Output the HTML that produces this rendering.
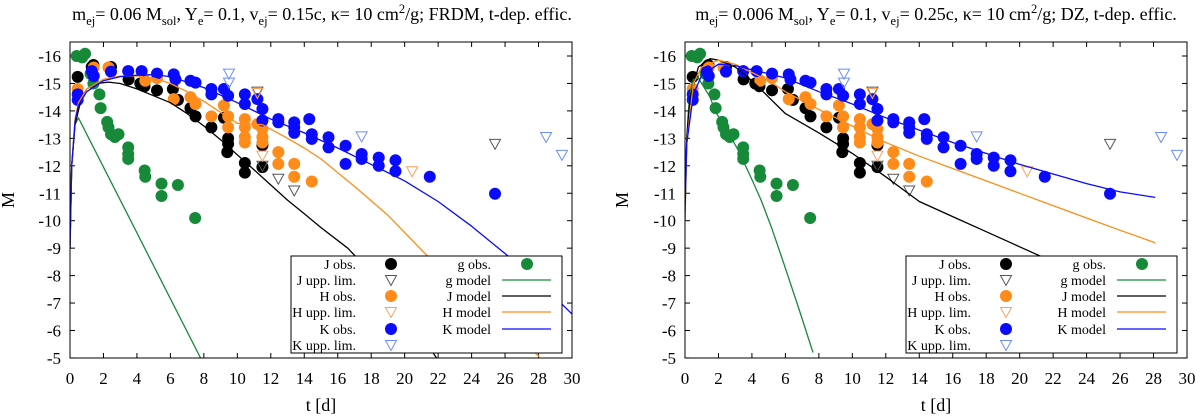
<!DOCTYPE html>
<html><head><meta charset="utf-8"><style>
html,body{margin:0;padding:0;background:#fff;}
svg{display:block;font-family:"Liberation Serif",serif;}
</style></head><body>
<svg id="chart" width="1200" height="417" viewBox="0 0 1200 417" xmlns="http://www.w3.org/2000/svg">
<text x="322" y="20" text-anchor="middle" font-size="18">m<tspan font-size="12.5" dy="5">ej</tspan><tspan dy="-5">= 0.06 M</tspan><tspan font-size="12.5" dy="5">sol</tspan><tspan dy="-5">, Y</tspan><tspan font-size="12.5" dy="5">e</tspan><tspan dy="-5">= 0.1, v</tspan><tspan font-size="12.5" dy="5">ej</tspan><tspan dy="-5">= 0.15c, κ= 10 cm</tspan><tspan font-size="12.5" dy="-7">2</tspan><tspan dy="7">/g; FRDM, t-dep. effic.</tspan></text>
<text x="936" y="20" text-anchor="middle" font-size="18">m<tspan font-size="12.5" dy="5">ej</tspan><tspan dy="-5">= 0.006 M</tspan><tspan font-size="12.5" dy="5">sol</tspan><tspan dy="-5">, Y</tspan><tspan font-size="12.5" dy="5">e</tspan><tspan dy="-5">= 0.1, v</tspan><tspan font-size="12.5" dy="5">ej</tspan><tspan dy="-5">= 0.25c, κ= 10 cm</tspan><tspan font-size="12.5" dy="-7">2</tspan><tspan dy="7">/g; DZ, t-dep. effic.</tspan></text>
</svg>
<script>
// ---- observed data (shared) ----
const jObsT=[0.46,1.3,1.4,2.45,3.5,4.2,4.45,5.2,6.15,6.45,7.2,7.5,8.45,9.2,9.45,9.45,9.4,10.45,10.45,11.5,11.5];
const jObsM=[-15.24,-15.6,-15.67,-15.6,-15.15,-15.0,-14.9,-14.75,-14.8,-14.4,-14.1,-13.8,-13.4,-13.75,-13.0,-12.8,-12.5,-12.1,-11.75,-11.95,-12.75];
const gObsT=[0.4,0.9,0.73,1.23,1.4,1.76,1.83,2.22,2.3,2.45,2.68,2.9,3.48,3.48,3.48,4.46,4.5,5.47,5.47,6.45,7.48];
const gObsM=[-16.0,-16.08,-15.95,-15.35,-15.0,-14.6,-14.1,-13.6,-13.4,-13.15,-13.05,-13.15,-12.67,-12.43,-12.25,-11.83,-11.6,-11.35,-10.9,-11.3,-10.1];
const hObsT=[0.46,1.42,2.3,3.48,4.5,5.2,6.2,7.2,7.5,8.45,9.2,9.45,9.45,10.45,10.45,10.45,10.45,11.2,11.5,11.5,11.5,12.45,12.45,13.4,13.4,14.45];
const hObsM=[-14.8,-15.58,-15.58,-15.45,-15.1,-15.2,-14.43,-14.5,-14.25,-13.8,-14.2,-13.8,-13.4,-13.7,-13.4,-13.05,-12.85,-13.52,-13.35,-13.05,-12.85,-12.5,-12.07,-12.07,-11.6,-11.43];
const kObsT=[0.46,0.46,1.3,1.42,2.45,3.48,4.28,5.2,6.2,6.3,7.2,7.5,8.45,8.45,9.2,9.45,10.45,10.45,11.2,11.5,11.5,12.45,12.45,13.4,13.4,13.4,14.3,14.45,14.45,15.45,15.45,16.47,16.47,17.43,17.43,18.45,18.45,19.45,19.45,21.5,25.4];
const kObsM=[-14.6,-14.4,-15.45,-15.27,-15.43,-15.45,-15.45,-15.36,-15.33,-15.15,-15.1,-15.03,-14.8,-14.6,-14.8,-14.55,-14.6,-14.25,-14.43,-14.07,-13.65,-13.7,-13.58,-13.58,-13.4,-13.2,-13.7,-13.15,-12.98,-13.04,-12.67,-12.73,-12.07,-12.43,-12.25,-12.3,-12.0,-12.2,-11.8,-11.6,-10.98];
const jLimT=[11.2,11.5,12.45,13.4,25.4];
const jLimM=[-14.7,-12.0,-11.53,-11.1,-12.8];
const hLimT=[11.2,11.5,20.45];
const hLimM=[-14.65,-12.37,-11.8];
const kLimT=[9.5,9.5,17.43,28.45,29.4];
const kLimM=[-15.36,-15.03,-13.07,-13.05,-12.4];
// ---- models, left panel (FRDM) ----
const frdmGT=[0,0.1,0.3,0.5,7.8];
const frdmGM=[-9,-12,-13.5,-13.75,-5];
const frdmJT=[0,0.1,0.3,0.7,1,1.6,2.3,3,4,5,6,7,8,9,10,11,12,13,14,15,16.6,18,20,21.9];
const frdmJM=[-9,-12,-13.5,-14.5,-14.8,-15.0,-15.05,-15.0,-14.8,-14.55,-14.3,-13.9,-13.45,-12.95,-12.4,-11.85,-11.3,-10.75,-10.25,-9.75,-9.0,-8.1,-6.7,-5];
const frdmHT=[0,0.1,0.3,0.5,1,2,3,4,5,6,7,8,9,10,11.5,13,14,15,17.1,19,21.3,24,26,28.05];
const frdmHM=[-9,-12,-13.7,-14.3,-14.8,-15.15,-15.27,-15.27,-15.2,-15.0,-14.7,-14.35,-13.95,-13.55,-13.5,-13.0,-12.65,-12.25,-11.2,-10.2,-8.75,-7.1,-6.1,-5.05];
const frdmKT=[0,0.1,0.3,0.5,1,2,3,4,5,6,8,10,12,14,16,18,20,22,24,26,28,30];
const frdmKM=[-9,-12,-13.6,-14.2,-14.7,-15.1,-15.25,-15.3,-15.32,-15.25,-14.85,-14.3,-13.7,-13.2,-12.65,-12.05,-11.45,-10.7,-9.8,-8.8,-7.8,-6.6];
// ---- models, right panel (DZ) ----
const dzGT=[0,0.1,0.2,0.35,0.5,0.8,1,1.5,1.8,2.5,3.2,4,4.55,5.2,5.9,6.8,7.65];
const dzGM=[-10,-12.8,-14,-14.8,-15.15,-15.2,-15.0,-14.5,-14.0,-13.3,-12.55,-11.5,-10.75,-9.7,-8.45,-6.8,-5.2];
const dzJT=[0,0.1,0.3,0.8,1.5,2,3,4,4.5,5,6,8,10,12,14,16,18,20,22];
const dzJM=[-10.5,-13,-14.5,-15.6,-15.9,-15.85,-15.6,-15.1,-14.8,-14.5,-13.9,-13.2,-12.45,-11.6,-10.7,-10.15,-9.6,-9.05,-8.5];
const dzHT=[0,0.1,0.5,1,2,3,4,5,6,8,10,12,14,16,18,20,22,24,26,28.1];
const dzHM=[-10,-12.8,-15,-15.6,-15.85,-15.7,-15.4,-15.1,-14.7,-14.05,-13.45,-12.85,-12.35,-11.9,-11.45,-11.0,-10.55,-10.1,-9.65,-9.2];
const dzKT=[0,0.1,0.5,1,2,3,4,5,6,8,10,12,14,16,18,20,22,24,26,28.1];
const dzKM=[-10.3,-12.8,-14.6,-15.3,-15.7,-15.65,-15.5,-15.35,-15.2,-14.7,-14.25,-13.75,-13.3,-12.85,-12.45,-12.05,-11.7,-11.35,-11.05,-10.85];
const xTicks=[0,2,4,6,8,10,12,14,16,18,20,22,24,26,28,30];
const yTicks=[-16,-15,-14,-13,-12,-11,-10,-9,-8,-7,-6,-5];

const NS="http://www.w3.org/2000/svg";
const svg=document.getElementById('chart');
function mk(tag,attrs,parent){const e=document.createElementNS(NS,tag);for(const k in attrs)e.setAttribute(k,attrs[k]);(parent||svg).appendChild(e);return e;}
const COL={J:'#000000',g:'#178a3a',H:'#ff8c1a',K:'#0a0aff'};
const TOP=42,BOT=358;
function yScale(m){return 56+(m+16)*27.45;}

function drawPanel(p){
  const xS=t=>p.x0+(t/30)*(p.x1-p.x0);
  const g=mk('g',{});
  
  
  const cid='clip-'+p.name;
  const cp=mk('clipPath',{id:cid},g);
  mk('rect',{x:p.x0,y:TOP,width:p.x1-p.x0,height:BOT-TOP},cp);
  xTicks.forEach(t=>{
    const x=xS(t);
    mk('line',{x1:x,y1:BOT,x2:x,y2:BOT-5,stroke:'#000','stroke-width':1},g);
    mk('line',{x1:x,y1:TOP,x2:x,y2:TOP+5,stroke:'#000','stroke-width':1},g);
    const tx=mk('text',{x:x,y:384,'text-anchor':'middle','font-size':17},g);
    tx.textContent=t;
    
    
  });
  yTicks.forEach(m=>{
    const y=yScale(m);
    mk('line',{x1:p.x0,y1:y,x2:p.x0+5,y2:y,stroke:'#000','stroke-width':1},g);
    mk('line',{x1:p.x1,y1:y,x2:p.x1-5,y2:y,stroke:'#000','stroke-width':1},g);
    const tx=mk('text',{x:p.x0-9,y:y+6,'text-anchor':'end','font-size':17},g);
    tx.textContent=m;
    
    
  });
  const xl=mk('text',{x:(p.x0+p.x1)/2,y:411,'text-anchor':'middle','font-size':18},g);
  xl.textContent='t [d]';
  
  
  const yl=mk('text',{x:p.yl,y:200,'text-anchor':'middle','font-size':18,transform:'rotate(-90 '+p.yl+' 200)'},g);
  yl.textContent='M';
  
  
  const pg=mk('g',{'clip-path':'url(#'+cid+')'},g);
  function circles(T,M,c,name){T.forEach((t,i)=>{const e=mk('circle',{cx:xS(t),cy:yScale(M[i]),r:6,fill:c},pg);
    
    });}
  function tris(T,M,c,name){T.forEach((t,i)=>{const x=xS(t),y=yScale(M[i]);
    const e=mk('polygon',{points:(x-5.5)+','+(y-4.5)+' '+(x+5.5)+','+(y-4.5)+' '+x+','+(y+5.5),fill:'none',stroke:c,'stroke-width':1},pg);
    
    });}
  circles(gObsT,gObsM,COL.g,'g-obs-point');
  circles(jObsT,jObsM,COL.J,'j-obs-point');
  circles(hObsT,hObsM,COL.H,'h-obs-point');
  circles(kObsT,kObsM,COL.K,'k-obs-point');
  tris(jLimT,jLimM,'#555','j-upper-limit');
  tris(hLimT,hLimM,'#ffa060','h-upper-limit');
  tris(kLimT,kLimM,'#6a8cff','k-upper-limit');
  function line(T,M,c,name){const d=T.map((t,i)=>(i?'L':'M')+xS(t).toFixed(1)+','+yScale(M[i]).toFixed(1)).join('');
    const e=mk('path',{d:d,fill:'none',stroke:c,'stroke-width':1.3,'stroke-linejoin':'round'},pg);
    
    }
  line(p.gT,p.gM,COL.g,'g-model-line');
  line(p.jT,p.jM,COL.J,'j-model-line');
  line(p.hT,p.hM,COL.H,'h-model-line');
  line(p.kT,p.kM,COL.K,'k-model-line');
  mk('rect',{x:p.x0,y:TOP,width:p.x1-p.x0,height:BOT-TOP,fill:'none',stroke:'#000','stroke-width':1},g);
  const L=p.lx;
  const lg=mk('g',{},g);
  
  
  mk('rect',{x:L,y:256,width:271,height:97,fill:'#fff',stroke:'#000','stroke-width':1},lg);
  const rows=[264,280,296,312,329,345];
  const left=[['J obs.','c',COL.J],['J upp. lim.','t','#555'],['H obs.','c',COL.H],['H upp. lim.','t','#ffa060'],['K obs.','c',COL.K],['K upp. lim.','t','#6a8cff']];
  left.forEach((r,i)=>{const y=rows[i];
    const tx=mk('text',{x:L+65,y:y+5,'text-anchor':'end','font-size':14},lg);tx.textContent=r[0];
    
    
    if(r[1]==='c')mk('circle',{cx:L+100,cy:y,r:6,fill:r[2]},lg);
    else mk('polygon',{points:(L+94.5)+','+(y-4.5)+' '+(L+105.5)+','+(y-4.5)+' '+(L+100)+','+(y+5.5),fill:'none',stroke:r[2]},lg);
  });
  const right=[['g obs.','c',COL.g],['g model','l',COL.g],['J model','l',COL.J],['H model','l',COL.H],['K model','l',COL.K]];
  right.forEach((r,i)=>{const y=rows[i];
    const tx=mk('text',{x:L+200,y:y+5,'text-anchor':'end','font-size':14},lg);tx.textContent=r[0];
    
    
    if(r[1]==='c')mk('circle',{cx:L+236,cy:y,r:6,fill:r[2]},lg);
    else mk('line',{x1:L+211,y1:y,x2:L+260,y2:y,stroke:r[2],'stroke-width':1.3},lg);
  });
}
drawPanel({name:'left',x0:70,x1:572,yl:14,lx:291,gT:frdmGT,gM:frdmGM,jT:frdmJT,jM:frdmJM,hT:frdmHT,hM:frdmHM,kT:frdmKT,kM:frdmKM});
drawPanel({name:'right',x0:685,x1:1187,yl:628,lx:906,gT:dzGT,gM:dzGM,jT:dzJT,jM:dzJM,hT:dzHT,hM:dzHM,kT:dzKT,kM:dzKM});
</script>
</body></html>
